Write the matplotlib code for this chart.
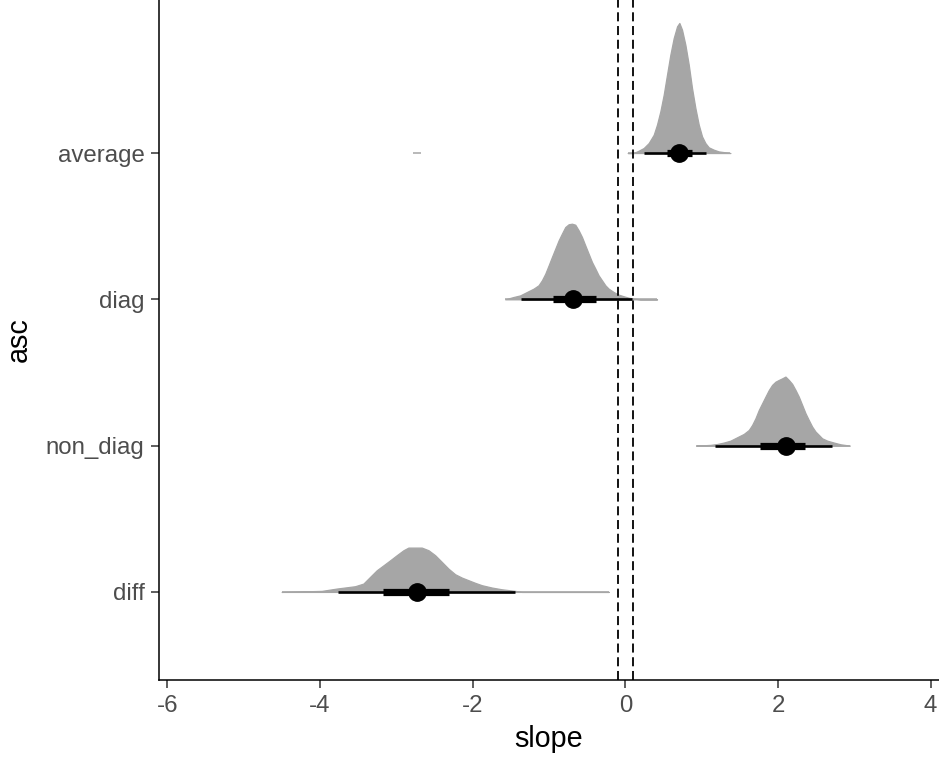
import matplotlib
matplotlib.use("Agg")
import matplotlib.pyplot as plt

# ---------------- data ----------------
categories = ["diff", "non_diag", "diag", "average"]   # bottom -> top

# slab (density) profiles: x values and slab heights (in category units)
avg_x = [0.033, 0.109, 0.175, 0.240, 0.306, 0.372, 0.415, 0.459, 0.503, 0.546, 0.590, 0.634,
         0.678, 0.708, 0.743, 0.787, 0.831, 0.874, 0.918, 0.962, 1.005, 1.049, 1.093, 1.158,
         1.224, 1.377]
avg_h = [0.0, 0.0, 0.016, 0.034, 0.068, 0.125, 0.194, 0.285, 0.399, 0.535, 0.672, 0.786,
         0.866, 0.889, 0.843, 0.740, 0.604, 0.444, 0.308, 0.194, 0.114, 0.068, 0.039, 0.023,
         0.011, 0.0]
avg_outlier = [-2.78, -2.68]

diag_x = [-1.574, -1.464, -1.377, -1.290, -1.202, -1.137, -1.093, -1.049, -1.005, -0.962,
          -0.918, -0.874, -0.831, -0.787, -0.743, -0.699, -0.656, -0.612, -0.568, -0.525,
          -0.481, -0.437, -0.393, -0.350, -0.306, -0.262, -0.219, -0.153, -0.087, -0.022,
          0.044, 0.109, 0.197, 0.415]
diag_h = [0.0, 0.016, 0.027, 0.050, 0.073, 0.096, 0.130, 0.175, 0.232, 0.289, 0.346, 0.403,
          0.449, 0.494, 0.513, 0.517, 0.510, 0.472, 0.426, 0.369, 0.312, 0.255, 0.210, 0.164,
          0.130, 0.096, 0.073, 0.050, 0.032, 0.021, 0.011, 0.005, 0.0, 0.0]

nd_x = [0.931, 1.115, 1.202, 1.290, 1.377, 1.464, 1.552, 1.618, 1.661, 1.705, 1.749, 1.792,
        1.836, 1.880, 1.923, 1.967, 2.011, 2.055, 2.098, 2.142, 2.186, 2.230, 2.273, 2.317,
        2.361, 2.404, 2.448, 2.492, 2.536, 2.579, 2.645, 2.732, 2.820, 2.942]
nd_h = [0.0, 0.005, 0.011, 0.021, 0.034, 0.057, 0.080, 0.107, 0.141, 0.187, 0.244, 0.289,
        0.335, 0.380, 0.415, 0.437, 0.449, 0.460, 0.472, 0.449, 0.422, 0.380, 0.335, 0.278,
        0.221, 0.175, 0.130, 0.096, 0.073, 0.050, 0.034, 0.021, 0.009, 0.0]

diff_x = [-4.503, -3.978, -3.781, -3.541, -3.432, -3.344, -3.257, -3.169, -3.082, -2.995,
          -2.907, -2.842, -2.667, -2.579, -2.492, -2.404, -2.317, -2.230, -2.142, -2.055,
          -1.967, -1.880, -1.749, -1.618, -1.443, -1.355, -0.219]
diff_h = [0.0, 0.007, 0.023, 0.039, 0.057, 0.103, 0.148, 0.182, 0.216, 0.251, 0.285, 0.303,
          0.303, 0.285, 0.251, 0.205, 0.159, 0.121, 0.098, 0.080, 0.062, 0.046, 0.030, 0.018,
          0.007, 0.0, 0.0]

# point + intervals (median, 66% and 95%) in category order
medians = [-2.73, 2.10, -0.68, 0.70]
q66_lo = [-3.17, 1.76, -0.95, 0.55]
q66_hi = [-2.31, 2.36, -0.39, 0.87]
q95_lo = [-3.76, 1.17, -1.37, 0.25]
q95_hi = [-1.45, 2.71, 0.09, 1.06]

ref_lines = [-0.1, 0.1]
x_ticks = [-6, -4, -2, 0, 2, 4]

# ---------------- plot ----------------
plt.rcParams["font.family"] = ["Liberation Sans", "DejaVu Sans"]
fig = plt.figure(figsize=(9.39, 7.61), dpi=100)
ax = fig.add_axes([159 / 939, 81 / 761, 1 - 159 / 939, 1 - 81 / 761])

slab_col = "#A6A6A6"
slabs = {"average": (avg_x, avg_h), "diag": (diag_x, diag_h),
         "non_diag": (nd_x, nd_h), "diff": (diff_x, diff_h)}

for i, cat in enumerate(categories):
    y0 = i + 1
    xs, hs = slabs[cat]
    ax.fill_between(xs, [y0] * len(xs), [y0 + h for h in hs], facecolor=slab_col,
                    edgecolor=slab_col, linewidth=0.9, zorder=2)
    ax.plot([xs[0], xs[-1]], [y0, y0], color=slab_col, lw=1.1, zorder=2,
            solid_capstyle="butt")
    if cat == "average":
        ax.plot(avg_outlier, [y0, y0], color=slab_col, lw=1.1, zorder=2,
                solid_capstyle="butt")
    ax.plot([q95_lo[i], q95_hi[i]], [y0, y0], color="black", lw=1.9, zorder=3,
            solid_capstyle="butt")
    ax.plot([q66_lo[i], q66_hi[i]], [y0, y0], color="black", lw=5.2, zorder=3,
            solid_capstyle="butt")
    ax.plot([medians[i]], [y0], "o", color="black", ms=12.5, zorder=4)

for xv in ref_lines:
    ax.axvline(xv, color="black", lw=1.3, linestyle=(0, (5, 2.6)), zorder=5)

ax.set_xlim(-6.11, 4.11)
ax.set_ylim(0.398, 5.046)
ax.set_xticks(x_ticks)
ax.set_xticklabels([str(t) for t in x_ticks])
ax.set_yticks(range(1, len(categories) + 1))
ax.set_yticklabels(categories)

for s in ["top", "right"]:
    ax.spines[s].set_visible(False)
for s in ["left", "bottom"]:
    ax.spines[s].set_color("black")
    ax.spines[s].set_linewidth(1.1)

ax.tick_params(axis="both", length=5.5, width=1.1, color="#333333",
               labelsize=17.3, labelcolor="#4D4D4D")
ax.tick_params(axis="x", pad=5)
ax.tick_params(axis="y", pad=5)

ax.set_xlabel("slope", fontsize=20.7, color="black")
ax.set_ylabel("asc", fontsize=20.7, color="black")
ax.xaxis.set_label_coords(0.5, -0.066)
ax.yaxis.set_label_coords(-0.162, 0.5)

fig.savefig("out.png", dpi=100)
